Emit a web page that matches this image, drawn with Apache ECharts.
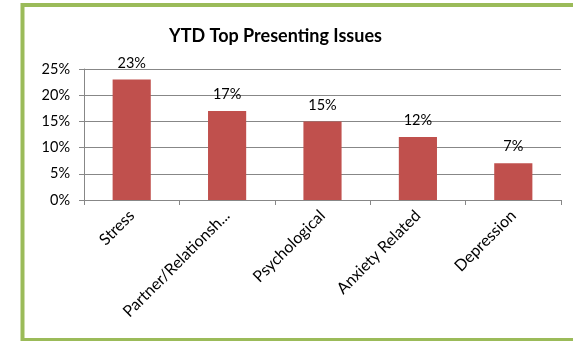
<!DOCTYPE html>
<html>
<head>
<meta charset="utf-8">
<script src="https://cdn.jsdelivr.net/npm/echarts@6/dist/echarts.min.js"></script>
<style>
  html, body { margin: 0; padding: 0; background: #ffffff; }
  #chart { width: 573px; height: 341px; }
</style>
</head>
<body>
<div id="chart"></div>
<script>
// Year-to-date share of the most common presenting issues
const categories = ['Stress', 'Partner/Relationship', 'Psychological', 'Anxiety Related', 'Depression'];
const shares = [23, 17, 15, 12, 7];           // percent
const yTicks = [0, 5, 10, 15, 20, 25];        // percent

const FONT = 'Lato, "Open Sans", sans-serif';
const GRID_COLOR = '#878787';

const chart = echarts.init(document.getElementById('chart'), null, { renderer: 'canvas' });

chart.setOption({
  animation: false,
  backgroundColor: '#ffffff',
  title: {
    text: 'YTD Top Presenting Issues',
    left: 164,
    top: 22,
    textStyle: { fontFamily: FONT, fontWeight: 'bold', fontSize: 18, color: '#000000' }
  },
  graphic: [{
    type: 'rect',
    shape: { x: 22.5, y: 5, width: 620, height: 335 },
    style: { fill: 'none', stroke: '#9BBB59', lineWidth: 4 },
    silent: true
  }],
  grid: { left: 84, right: 12, top: 69, bottom: 141, containLabel: false },
  xAxis: {
    type: 'category',
    data: categories,
    axisLine: { show: true, lineStyle: { color: GRID_COLOR, width: 1 } },
    axisTick: { show: true, alignWithLabel: false, length: 5, lineStyle: { color: GRID_COLOR } },
    axisLabel: {
      rotate: 45,
      margin: 13,
      interval: 0,
      fontFamily: FONT,
      fontSize: 16,
      color: '#000000',
      formatter: function (v) { return v.length > 18 ? v.slice(0, 18) + '...' : v; }
    }
  },
  yAxis: {
    type: 'value',
    min: yTicks[0],
    max: yTicks[yTicks.length - 1],
    interval: yTicks[1] - yTicks[0],
    axisLine: { show: true, lineStyle: { color: GRID_COLOR, width: 1 } },
    axisTick: { show: true, length: 5, lineStyle: { color: GRID_COLOR } },
    splitLine: { show: true, lineStyle: { color: GRID_COLOR, width: 1 } },
    axisLabel: {
      margin: 14,
      fontFamily: FONT,
      fontSize: 14.5,
      color: '#000000',
      formatter: '{value}%'
    }
  },
  series: [{
    type: 'bar',
    data: shares,
    barWidth: '40%',
    itemStyle: { color: '#C0504D' },
    label: {
      show: true,
      position: 'top',
      distance: 9,
      fontFamily: FONT,
      fontSize: 14.5,
      color: '#000000',
      formatter: '{c}%'
    }
  }]
});
</script>
</body>
</html>
